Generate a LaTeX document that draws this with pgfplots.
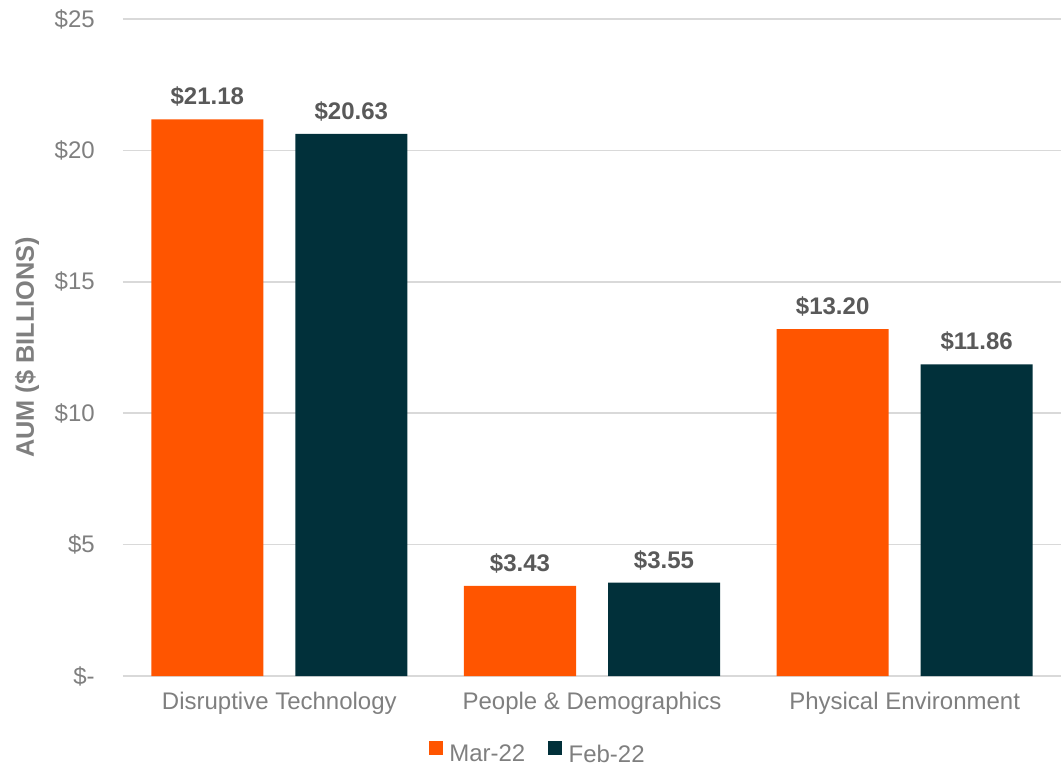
\documentclass[border=0pt]{standalone}
\usepackage{pgfplots}
\pgfplotsset{compat=1.18}
\usepackage{fontspec}
\setmainfont{Liberation Sans}
\definecolor{orng}{HTML}{FF5500}
\definecolor{dark}{HTML}{01303A}
\definecolor{txt}{HTML}{7F7F7F}
\definecolor{lbl}{HTML}{595959}
\definecolor{grd}{HTML}{D9D9D9}
\begin{document}
\begin{tikzpicture}
\path[use as bounding box] (-92.25pt,-69.75pt) rectangle (703.5pt,507pt);
\begin{axis}[
  at={(0pt,0pt)}, anchor=south west,
  scale only axis, width=703.5pt, height=492.75pt,
  ybar=24pt, bar width=84pt,
  xmin=-0.5, xmax=2.5, ymin=0, ymax=25,
  enlargelimits=false,
  axis line style={draw=none},
  major tick length=0pt,
  xtick={0,1,2},
  xticklabels={Disruptive Technology, People \& Demographics, Physical Environment},
  ytick={0,5,10,15,20,25},
  yticklabels={\$-, \$5, \$10, \$15, \$20, \$25},
  ymajorgrids, grid style={grd, line width=1.1pt},
  font=\fontsize{18}{21.6}\selectfont,
  ticklabel style={text=txt},
  xticklabel style={anchor=north, inner sep=0pt, yshift=-12pt},
  yticklabel style={anchor=east, inner sep=0pt, xshift=-21pt},
  ylabel={\fontsize{19}{22}\selectfont\bfseries AUM (\$ BILLIONS)},
  ylabel style={at={(axis description cs:-0.1023,0.5)}, anchor=center, text=txt},
  /pgf/number format/assume math mode=true,
  nodes near coords={\bfseries\$\pgfmathprintnumber[fixed, fixed zerofill, precision=2]{\pgfplotspointmeta}},
  nodes near coords style={anchor=base, inner sep=0pt, yshift=11pt, text=lbl},
  legend style={draw=none, fill=none, at={(0.4424,-0.1187)}, anchor=center, legend columns=2,
    /tikz/every even column/.append style={column sep=15pt}, inner sep=0pt,
    font=\fontsize{18}{21.6}\selectfont, text=txt},
  legend cell align=left,
]
\addplot[fill=orng, draw=none,
  legend image code/.code={\fill[orng] (0pt,-0.3pt) rectangle (10.5pt,10.2pt); \path (13.5pt,0pt);}]
  coordinates {(0,21.18) (1,3.43) (2,13.20)};
\addlegendentry{Mar-22}
\addplot[fill=dark, draw=none,
  legend image code/.code={\fill[dark] (0pt,-0.3pt) rectangle (10.5pt,10.2pt); \path (13.5pt,0pt);}]
  coordinates {(0,20.63) (1,3.55) (2,11.86)};
\addlegendentry{Feb-22}
\end{axis}
\end{tikzpicture}
\end{document}
